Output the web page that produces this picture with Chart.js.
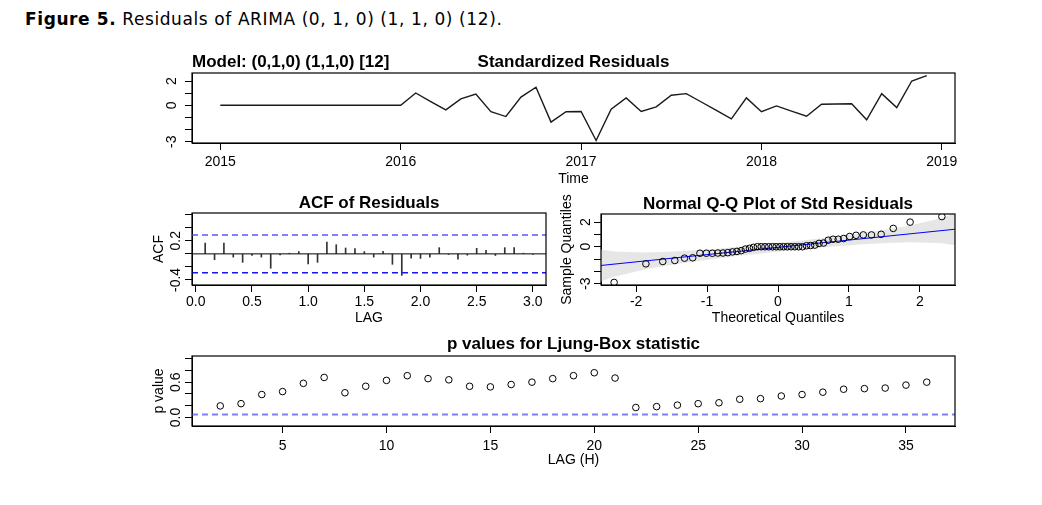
<!DOCTYPE html>
<html>
<head>
<meta charset="utf-8">
<script src="https://cdn.jsdelivr.net/npm/chart.js@4.4.0/dist/chart.umd.min.js"></script>
<style>
  body { margin: 0; background: #fff; width: 1042px; height: 505px; position: relative; overflow: hidden; }
  canvas { position: absolute; left: 0; top: 0; }
  #caption { position: absolute; left: 25px; top: 9px; font: 17px "DejaVu Sans", sans-serif; line-height: 20px; letter-spacing: 0.6px; color: #000; white-space: nowrap; }
</style>
</head>
<body>
<div id="caption"><b>Figure 5.</b> Residuals of ARIMA (0, 1, 0) (1, 1, 0) (12).</div>
<canvas id="resid" width="1042" height="505"></canvas>
<canvas id="acf" width="1042" height="505"></canvas>
<canvas id="qq" width="1042" height="505"></canvas>
<canvas id="lb" width="1042" height="505"></canvas>
<script>
// ---- data ----
const residStart = 2015;          // monthly series, Jan 2015 .. Dec 2018
const stdResiduals = [0, 0, 0, 0, 0, 0, 0, 0, 0, 0, 0, 0,
  0, 1.01, 0.3, -0.38, 0.53, 0.93, -0.53, -0.93, 0.67, 1.49, -1.39, -0.53,
  -0.51, -2.9, -0.32, 0.61, -0.51, -0.13, 0.83, 0.96, 0.27, -0.42, -1.12, 0.61,
  -0.53, -0.05, -0.48, -0.9, 0.08, 0.1, 0.13, -1.2, 0.96, -0.19, 2.0, 2.45];
const timeTicks = [2015, 2016, 2017, 2018, 2019];

const acfValues = [0.165, -0.09, 0.165, -0.05, -0.13, -0.025, -0.05, -0.22, -0.015, 0.01, 0.035, -0.155,
  -0.13, 0.18, 0.14, 0.09, 0.08, 0.035, -0.05, 0.04, -0.16, -0.33, -0.065, -0.07,
  -0.05, 0.095, -0.01, -0.08, -0.02, 0.085, 0.055, -0.025, 0.095, 0.095, 0.01, -0.01];
const acfBound = 0.289;
const acfTicks = [0, 0.5, 1, 1.5, 2, 2.5, 3];

const theoQuantiles = [-2.311, -1.863, -1.625, -1.455, -1.318, -1.203, -1.101, -1.010, -0.926, -0.849, -0.776, -0.708,
  -0.642, -0.579, -0.519, -0.460, -0.402, -0.346, -0.291, -0.237, -0.184, -0.131, -0.078, -0.026,
  0.026, 0.078, 0.131, 0.184, 0.237, 0.291, 0.346, 0.402, 0.460, 0.519, 0.579, 0.642,
  0.708, 0.776, 0.849, 0.926, 1.010, 1.101, 1.203, 1.318, 1.455, 1.625, 1.863, 2.311];
const sampleQuantiles = [-2.9, -1.39, -1.2, -1.12, -0.93, -0.9, -0.53, -0.53, -0.53, -0.51, -0.51, -0.48,
  -0.42, -0.38, -0.32, -0.19, -0.13, -0.05, 0, 0, 0, 0, 0, 0,
  0, 0, 0, 0, 0, 0, 0, 0.08, 0.1, 0.13, 0.27, 0.3, 0.53, 0.61, 0.61, 0.67,
  0.83, 0.93, 0.96, 0.96, 1.01, 1.49, 2.0, 2.45];
const bandX = [-2.5, -2.311, -1.863, -1.625, -1.455, -1.203, -1.010, -0.776, -0.519, -0.237, -0.026,
  0.026, 0.237, 0.519, 0.776, 1.010, 1.203, 1.455, 1.625, 1.863, 2.311, 2.5];
const bandUpper = [-0.23, -0.39, -0.46, -0.43, -0.39, -0.30, -0.23, -0.12, 0.01, 0.16, 0.28,
  0.31, 0.44, 0.62, 0.80, 0.97, 1.12, 1.33, 1.49, 1.73, 2.33, 2.72];
const bandLower = [-2.83, -2.43, -1.83, -1.59, -1.43, -1.22, -1.07, -0.90, -0.72, -0.54, -0.41,
  -0.38, -0.26, -0.11, 0.02, 0.13, 0.20, 0.29, 0.33, 0.36, 0.29, 0.12];
const qqLineX = [-2.5, 2.5];
const qqLineY = [-1.525, 1.425];

const lbFirstLag = 2;
const lbPValues = [0.197, 0.235, 0.39, 0.44, 0.58, 0.68, 0.42, 0.53, 0.63, 0.71, 0.66, 0.64,
  0.53, 0.52, 0.56, 0.60, 0.66, 0.71, 0.76, 0.67, 0.17, 0.185, 0.21, 0.235, 0.25,
  0.31, 0.32, 0.365, 0.39, 0.43, 0.48, 0.49, 0.50, 0.55, 0.60];
const lbLevel = 0.05;
const lbTicks = [5, 10, 15, 20, 25, 30, 35];

// ---- drawing ----
const W = 1042, H = 505;
const FONT = '"Liberation Sans", Arial, sans-serif';
const TL = 7;
const mctx = document.createElement('canvas').getContext('2d');
function textW(s) { mctx.font = '14px ' + FONT; return mctx.measureText(s).width; }

// box around the plot region + main titles, R style
const rFrame = {
  id: 'rFrame',
  afterDraw(chart, args, opts) {
    const { ctx, chartArea: a } = chart;
    ctx.save();
    ctx.strokeStyle = '#000';
    ctx.lineWidth = 1.2;
    ctx.strokeRect(a.left, a.top, a.right - a.left, a.bottom - a.top);
    ctx.fillStyle = '#000';
    ctx.textBaseline = 'alphabetic';
    (opts.titles || []).forEach(t => {
      ctx.font = 'bold 17px ' + FONT;
      ctx.textAlign = t.left ? 'left' : 'center';
      ctx.fillText(t.text, t.left ? a.left : (a.left + a.right) / 2, a.top - t.gap);
    });
    ctx.restore();
  }
};
Chart.register(rFrame);

function axis(horizontal, min, max, tickVals, labelFn, o) {
  const labels = tickVals.map(labelFn);
  const pad = horizontal ? o.pad : o.off - TL - Math.max(...labels.map(textW)) / 2;
  return {
    type: 'linear', min, max, offset: false,
    afterBuildTicks: s => { s.ticks = tickVals.map(v => ({ value: v })); },
    afterFit: s => { if (horizontal) s.height = o.size; else s.width = o.size; },
    grid: { drawOnChartArea: false, drawTicks: true, tickLength: TL, color: '#000', lineWidth: 1, offset: false },
    border: { display: true, color: '#000', width: 1 },
    ticks: {
      autoSkip: false, color: '#000', font: { family: FONT, size: 14 }, padding: pad,
      callback: (v, i) => labels[i],
      minRotation: horizontal ? 0 : 90, maxRotation: horizontal ? 0 : 90,
      crossAlign: horizontal ? 'near' : 'center'
    },
    title: o.title
      ? { display: true, text: o.title, color: '#000', font: { family: FONT, size: 14, lineHeight: 1 }, padding: 0 }
      : { display: false }
  };
}

function panel(id, box, yw, xh, type, datasets, scales, titles) {
  return new Chart(document.getElementById(id), {
    type,
    data: { datasets },
    options: {
      responsive: false, animation: false, events: [],
      layout: { padding: { left: box.l - yw, top: box.t, right: W - box.r, bottom: H - box.b - xh } },
      scales,
      plugins: { legend: { display: false }, tooltip: { enabled: false }, rFrame: { titles } }
    }
  });
}

const noPts = { pointRadius: 0, pointHoverRadius: 0 };
const ring = { pointRadius: 3.3, pointStyle: 'circle', pointBorderColor: '#000', pointBackgroundColor: 'rgba(0,0,0,0)', pointBorderWidth: 1, showLine: false };

// Standardized residuals
const tMin = 2014.843, tMax = 2019.073;
panel('resid', { l: 192, t: 73, r: 955, b: 143 }, 40, 43, 'line', [{
  data: stdResiduals.map((v, i) => ({ x: residStart + i / 12, y: v })),
  borderColor: '#1a1a1a', borderWidth: 1.4, tension: 0, ...noPts
}], {
  x: axis(true, tMin, tMax, timeTicks, v => String(v), { pad: 4, size: 43, title: 'Time' }),
  y: axis(false, -3.11, 2.66, [-3, -2, -1, 0, 1, 2], v => ({ 2: '2', 0: '0', '-3': '-3' }[v] || ''), { off: 20, size: 40 })
}, [{ text: 'Model: (0,1,0) (1,1,0) [12]', left: true, gap: 6.5 }, { text: 'Standardized Residuals', gap: 6.5 }]);

// ACF of residuals
const aMin = -0.034, aMax = 3.117;
panel('acf', { l: 192, t: 213, r: 546, b: 285 }, 40, 40, 'bar', [
  { type: 'line', data: [{ x: aMin, y: acfBound }, { x: aMax, y: acfBound }], borderColor: '#7f7fff', borderWidth: 2, borderDash: [6, 4], ...noPts },
  { type: 'line', data: [{ x: aMin, y: -acfBound }, { x: aMax, y: -acfBound }], borderColor: '#1414ff', borderWidth: 1.5, borderDash: [6, 4], ...noPts },
  { type: 'line', data: [{ x: aMin, y: 0 }, { x: aMax, y: 0 }], borderColor: '#000', borderWidth: 1, ...noPts },
  { type: 'bar', data: acfValues.map((v, i) => ({ x: (i + 1) / 12, y: v })), backgroundColor: '#333', barThickness: 1, grouped: false }
], {
  x: axis(true, aMin, aMax, acfTicks, v => v.toFixed(1), { pad: 2, size: 40, title: 'LAG' }),
  y: axis(false, -0.477, 0.626, [-0.4, -0.2, 0, 0.2, 0.4, 0.6], v => (v === 0.2 ? '0.2' : v === -0.4 ? '-0.4' : ''), { off: 15.5, size: 40, title: 'ACF' })
}, [{ text: 'ACF of Residuals', gap: 4.7 }]);

// Normal Q-Q plot
panel('qq', { l: 601, t: 214, r: 955, b: 285 }, 41, 40, 'scatter', [
  { data: theoQuantiles.map((x, i) => ({ x, y: sampleQuantiles[i] })), ...ring },
  { type: 'line', data: qqLineX.map((x, i) => ({ x, y: qqLineY[i] })), borderColor: '#0000ff', borderWidth: 1, ...noPts },
  { type: 'line', data: bandX.map((x, i) => ({ x, y: bandUpper[i] })), borderWidth: 0, borderColor: 'rgba(0,0,0,0)', fill: false, ...noPts },
  { type: 'line', data: bandX.map((x, i) => ({ x, y: bandLower[i] })), borderWidth: 0, borderColor: 'rgba(0,0,0,0)', backgroundColor: '#e6e6e6', fill: '-1', ...noPts }
], {
  x: axis(true, -2.496, 2.496, [-2, -1, 0, 1, 2], v => String(v), { pad: 2, size: 40, title: 'Theoretical Quantiles' }),
  y: axis(false, -3.11, 2.66, [-3, -2, -1, 0, 1, 2], v => ({ 2: '2', 0: '0', '-3': '-3' }[v] || ''), { off: 14.5, size: 41, title: 'Sample Quantiles' })
}, [{ text: 'Normal Q-Q Plot of Std Residuals', gap: 5.5 }]);

// Ljung-Box p values
const lMin = 0.64, lMax = 37.36;
panel('lb', { l: 192, t: 356, r: 955, b: 426 }, 40, 41, 'scatter', [
  { data: lbPValues.map((v, i) => ({ x: lbFirstLag + i, y: v })), ...ring },
  { type: 'line', data: [{ x: lMin, y: lbLevel }, { x: lMax, y: lbLevel }], borderColor: '#7f7fff', borderWidth: 2, borderDash: [6, 4], ...noPts }
], {
  x: axis(true, lMin, lMax, lbTicks, v => String(v), { pad: 5, size: 41, title: 'LAG (H)' }),
  y: axis(false, -0.144, 1.044, [0, 0.2, 0.4, 0.6, 0.8, 1], v => (v === 0 ? '0.0' : v === 0.6 ? '0.6' : ''), { off: 16, size: 40, title: 'p value' })
}, [{ text: 'p values for Ljung-Box statistic', gap: 7 }]);
</script>
</body>
</html>
